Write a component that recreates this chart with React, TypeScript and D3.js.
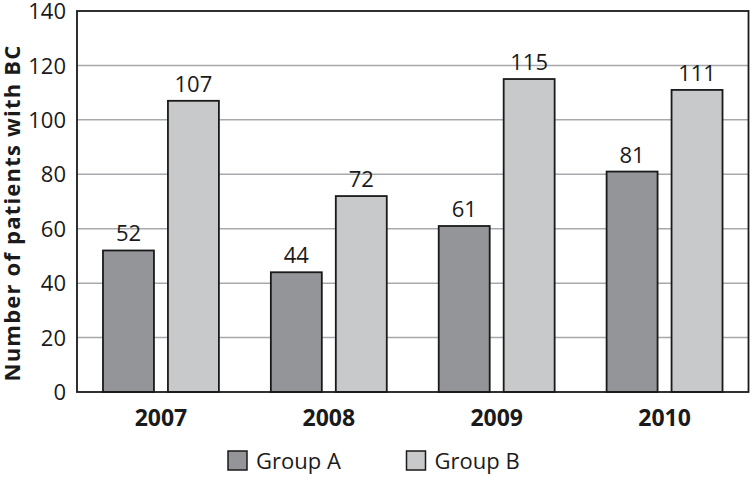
import React from "react";
import * as d3 from "d3";

const years = ["2007", "2008", "2009", "2010"];
const groups = ["Group A", "Group B"];
const groupA = [52, 44, 61, 81];
const groupB = [107, 72, 115, 111];
const yTicks = [0, 20, 40, 60, 80, 100, 120, 140];
const colors = ["#939598", "#c8c9cb"];

const W = 750;
const H = 478;
const M = { left: 77, right: 1.5, top: 11, bottom: 86 };
const FONT = "'Open Sans', 'Segoe UI', sans-serif";

export default function App() {
  const x0 = d3
    .scaleBand<string>()
    .domain(years)
    .range([M.left, W - M.right])
    .paddingInner(0)
    .paddingOuter(0);
  const bw = x0.bandwidth();
  const x1 = d3
    .scaleBand<string>()
    .domain(groups)
    .range([(26 / 168) * bw, bw - (26 / 168) * bw])
    .paddingInner(14 / 65);
  const y = d3.scaleLinear().domain([0, 140]).range([H - M.bottom, M.top]);

  const series = [groupA, groupB];

  return (
    <svg
      width={W}
      height={H}
      style={{ position: "absolute", left: 0, top: 0, background: "#fff" }}
      fontFamily={FONT}
    >
      <rect x={0} y={0} width={W} height={H} fill="#fff" />
      {yTicks.map((t) => (
        <g key={t}>
          {t > 0 && t < 140 && (
            <line
              x1={M.left}
              x2={W - M.right}
              y1={y(t)}
              y2={y(t)}
              stroke="#a7a9ac"
              strokeWidth={1.5}
            />
          )}
          <text
            x={M.left - 11}
            y={y(t)}
            dy="0.37em"
            textAnchor="end"
            fontSize={22}
            fill="#1a1a1a"
          >
            {t}
          </text>
        </g>
      ))}
      {years.map((yr, i) =>
        groups.map((g, j) => {
          const v = series[j][i];
          const bx = (x0(yr) as number) + (x1(g) as number);
          return (
            <g key={yr + g}>
              <rect
                x={bx}
                y={y(v)}
                width={x1.bandwidth()}
                height={y(0) - y(v)}
                fill={colors[j]}
                stroke="#1a1a1a"
                strokeWidth={1.8}
              />
              <text
                x={bx + x1.bandwidth() / 2}
                y={y(v) - 9}
                textAnchor="middle"
                fontSize={22}
                fill="#1a1a1a"
              >
                {v}
              </text>
            </g>
          );
        })
      )}
      <rect
        x={M.left}
        y={M.top}
        width={W - M.right - M.left}
        height={H - M.bottom - M.top}
        fill="none"
        stroke="#1a1a1a"
        strokeWidth={1.8}
      />
      {years.map((yr) => (
        <text
          key={yr}
          x={(x0(yr) as number) + bw / 2}
          y={426}
          textAnchor="middle"
          fontSize={23}
          fontWeight="bold"
          fill="#1a1a1a"
        >
          {yr}
        </text>
      ))}
      <text
        transform={`translate(20, 213) rotate(-90)`}
        textAnchor="middle"
        fontSize={22}
        fontWeight="bold"
        letterSpacing={1.2}
        fill="#1a1a1a"
      >
        Number of patients with BC
      </text>
      {groups.map((g, j) => {
        const lx = j === 0 ? 228 : 406.5;
        return (
          <g key={g}>
            <rect
              x={lx}
              y={451}
              width={19}
              height={19}
              fill={colors[j]}
              stroke="#1a1a1a"
              strokeWidth={1.5}
            />
            <text x={lx + 28} y={469} fontSize={22} fill="#1a1a1a">
              {g}
            </text>
          </g>
        );
      })}
    </svg>
  );
}
